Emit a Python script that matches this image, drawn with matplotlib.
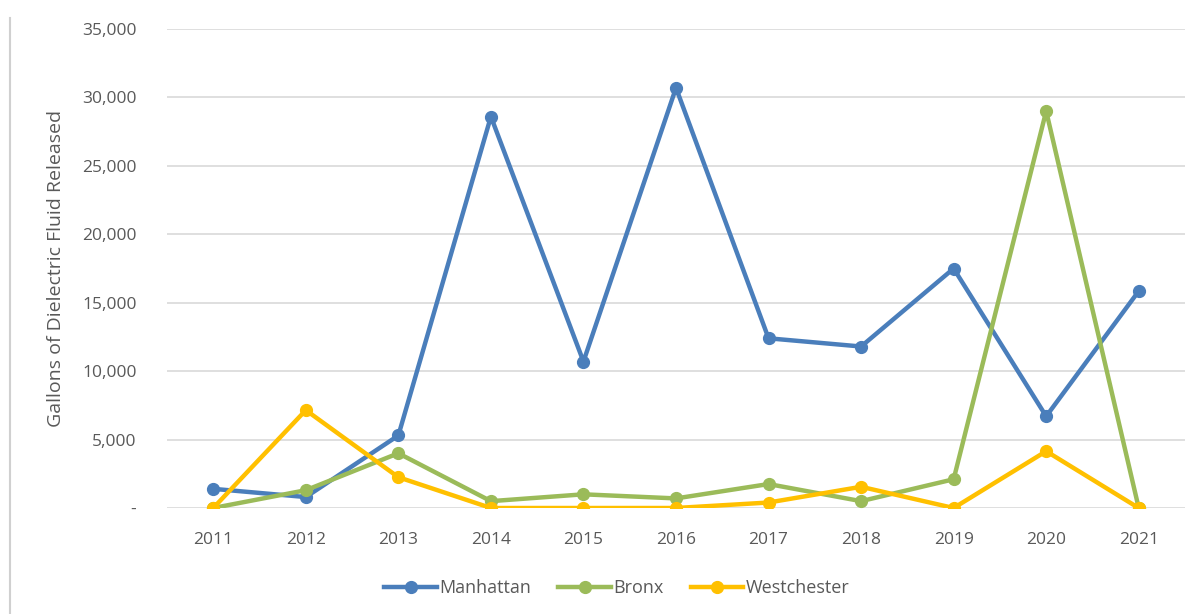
import matplotlib.pyplot as plt
from matplotlib.lines import Line2D
from matplotlib.ticker import FuncFormatter

years = [2011, 2012, 2013, 2014, 2015, 2016, 2017, 2018, 2019, 2020, 2021]
manhattan = [1400, 800, 5300, 28600, 10700, 30700, 12400, 11800, 17500, 6700, 15850]
bronx = [0, 1300, 4000, 500, 1000, 700, 1750, 500, 2100, 29000, 0]
westchester = [0, 7150, 2250, 0, 0, 0, 400, 1550, 0, 4150, 0]

plt.rcParams['font.family'] = ['Open Sans', 'DejaVu Sans']
grey = '#595959'

fig = plt.figure(figsize=(12.02, 6.14), dpi=100)
ax = fig.add_axes([167/1202, 1-508/614, (1185-167)/1202, (508-29)/614])

series = [("Manhattan", manhattan, "#4A7EBB"),
          ("Bronx", bronx, "#9BBB59"),
          ("Westchester", westchester, "#FFC000")]
x = list(range(len(years)))
for name, vals, col in series:
    ax.plot(x, vals, color=col, lw=3.2, marker='o', ms=8.5, label=name,
            solid_joinstyle='round')

ax.set_ylim(0, 35000)
ax.set_xlim(-0.5, len(years) - 0.5)
ax.set_yticks(range(0, 35001, 5000))
ax.yaxis.set_major_formatter(FuncFormatter(lambda v, p: '-' if v == 0 else f'{int(v):,}'))
ax.set_xticks(x)
ax.set_xticklabels([str(y) for y in years])
ax.grid(axis='y', color='#d9d9d9', lw=1.2)
ax.set_axisbelow(True)
for s in ax.spines.values():
    s.set_visible(False)
ax.tick_params(length=0, labelsize=12.5, colors=grey, pad=22)
ax.tick_params(axis='x', pad=17)
ax.set_ylabel("Gallons of Dielectric Fluid Released", fontsize=14, color=grey, labelpad=12)

# legend sits centred under the whole chart, not just the plot area
ax.legend(loc='upper center', bbox_to_anchor=(0.442, -0.115), ncol=3, frameon=False,
          fontsize=13, labelcolor=grey, handlelength=2.9, handletextpad=0.15,
          columnspacing=1.5)

# thin frame line on the left edge of the page
fig.add_artist(Line2D([10/1202, 10/1202], [0, 1-18/614], color='#d0d0d0', lw=1.5))

fig.savefig('out.png', dpi=100)
